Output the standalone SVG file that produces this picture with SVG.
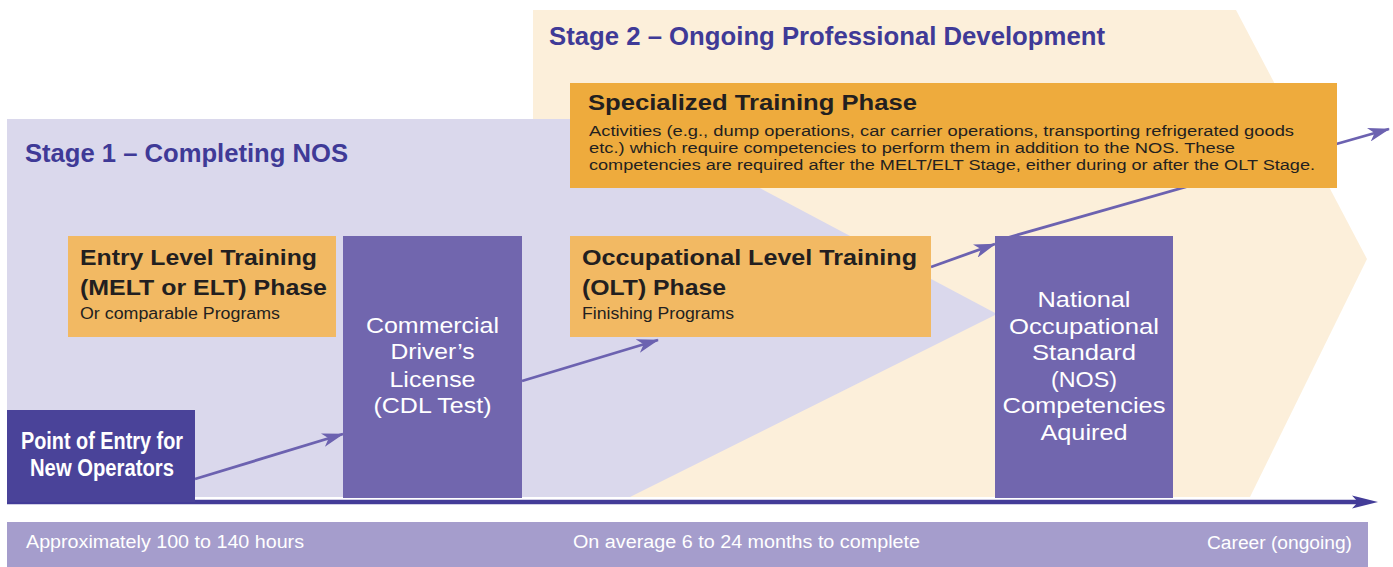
<svg xmlns="http://www.w3.org/2000/svg" width="1393" height="567" viewBox="0 0 1393 567">
<style>
text{font-family:"Liberation Sans",Arial,Helvetica,sans-serif}
.stage{font-size:26px;font-weight:bold;fill:#3F3A97}
.ttl{font-size:22.5px;font-weight:bold;fill:#231F20}
.sub{font-size:16px;fill:#231F20}
.body{font-size:15.5px;fill:#231F20}
.wb{font-size:22.5px;fill:#FFFFFF;text-anchor:middle}
.pe{font-size:23px;font-weight:bold;fill:#FFFFFF;text-anchor:middle}
.bar{font-size:18px;fill:#FFFFFF}
.conn{stroke:#6C62B0;stroke-width:2.8;fill:none;marker-end:url(#ah)}
</style>
<defs>
<marker id="ah" markerUnits="userSpaceOnUse" markerWidth="22" markerHeight="14" refX="21" refY="7" orient="auto" viewBox="0 0 22 14">
<path d="M0,0 L22,7 L0,14 L6,7 Z" fill="#6C62B0"/>
</marker>
</defs>
<rect width="1393" height="567" fill="#FFFFFF"/>
<g id="stage2-bg">
<polygon points="533,10 1236,10 1367,259 1250,497 533,497" fill="#FCEFDA"/>
<text class="stage" x="549" y="45" textLength="556" lengthAdjust="spacingAndGlyphs">Stage 2 – Ongoing Professional Development</text>
</g>
<g id="stage1-bg">
<polygon points="7,119 630,119 997,314 630,497 7,497" fill="#DAD8EC"/>
<text class="stage" x="25" y="162" textLength="323" lengthAdjust="spacingAndGlyphs">Stage 1 – Completing NOS</text>
</g>
<g id="timeline">
<line x1="7" y1="502" x2="1360" y2="502" stroke="#433C98" stroke-width="4.5"/>
<polygon points="1352,495.5 1378,502 1352,508.5 1358,502" fill="#433C98"/>
</g>
<g id="connectors">
<line class="conn" x1="195" y1="479" x2="343" y2="434"/>
<line class="conn" x1="522" y1="381" x2="658" y2="340"/>
<line class="conn" x1="931" y1="267" x2="995" y2="244"/>
<line class="conn" x1="1003" y1="239" x2="1389" y2="129"/>
</g>
<g id="specialized">
<rect x="570" y="83" width="767" height="105" fill="#EEAB3D"/>
<text class="ttl" x="588" y="110" style="font-size:21.5px" textLength="329" lengthAdjust="spacingAndGlyphs">Specialized Training Phase</text>
<text class="body" x="589" y="135.5" textLength="705" lengthAdjust="spacingAndGlyphs">Activities (e.g., dump operations, car carrier operations, transporting refrigerated goods</text>
<text class="body" x="589" y="152.5" textLength="646" lengthAdjust="spacingAndGlyphs">etc.) which require competencies to perform them in addition to the NOS. These</text>
<text class="body" x="589" y="170" textLength="726" lengthAdjust="spacingAndGlyphs">competencies are required after the MELT/ELT Stage, either during or after the OLT Stage.</text>
</g>
<g id="entry-level">
<rect x="68" y="236" width="268" height="101" fill="#F2B963"/>
<text class="ttl" x="80" y="265" textLength="237" lengthAdjust="spacingAndGlyphs">Entry Level Training</text>
<text class="ttl" x="80" y="295" textLength="247" lengthAdjust="spacingAndGlyphs">(MELT or ELT) Phase</text>
<text class="sub" x="80" y="319" textLength="200" lengthAdjust="spacingAndGlyphs">Or comparable Programs</text>
</g>
<g id="cdl">
<rect x="343" y="236" width="179" height="262" fill="#7166AE"/>
<text class="wb" x="432.5" y="333" textLength="133" lengthAdjust="spacingAndGlyphs">Commercial</text>
<text class="wb" x="432.5" y="359" textLength="84" lengthAdjust="spacingAndGlyphs">Driver’s</text>
<text class="wb" x="432.5" y="387" textLength="86" lengthAdjust="spacingAndGlyphs">License</text>
<text class="wb" x="432.5" y="413" textLength="118" lengthAdjust="spacingAndGlyphs">(CDL Test)</text>
</g>
<g id="olt">
<rect x="570" y="236" width="361" height="101" fill="#F2B963"/>
<text class="ttl" x="582" y="265" textLength="335" lengthAdjust="spacingAndGlyphs">Occupational Level Training</text>
<text class="ttl" x="582" y="295" textLength="144" lengthAdjust="spacingAndGlyphs">(OLT) Phase</text>
<text class="sub" x="582" y="319" textLength="152" lengthAdjust="spacingAndGlyphs">Finishing Programs</text>
</g>
<g id="nos">
<rect x="995" y="236" width="178" height="262" fill="#7166AE"/>
<text class="wb" x="1084" y="307" textLength="93" lengthAdjust="spacingAndGlyphs">National</text>
<text class="wb" x="1084" y="333.5" textLength="150" lengthAdjust="spacingAndGlyphs">Occupational</text>
<text class="wb" x="1084" y="360" textLength="104" lengthAdjust="spacingAndGlyphs">Standard</text>
<text class="wb" x="1084" y="386.5" textLength="66" lengthAdjust="spacingAndGlyphs">(NOS)</text>
<text class="wb" x="1084" y="413" textLength="163" lengthAdjust="spacingAndGlyphs">Competencies</text>
<text class="wb" x="1084" y="440" textLength="87" lengthAdjust="spacingAndGlyphs">Aquired</text>
</g>
<g id="point-of-entry">
<rect x="7" y="410" width="188" height="92" fill="#4A4399"/>
<text class="pe" x="102" y="449" textLength="162" lengthAdjust="spacingAndGlyphs">Point of Entry for</text>
<text class="pe" x="102" y="476" textLength="144" lengthAdjust="spacingAndGlyphs">New Operators</text>
</g>
<g id="duration-bar">
<rect x="7" y="522" width="1361" height="45" fill="#A59DCC"/>
<text class="bar" x="26" y="548" textLength="278" lengthAdjust="spacingAndGlyphs">Approximately 100 to 140 hours</text>
<text class="bar" x="573" y="548" textLength="347" lengthAdjust="spacingAndGlyphs">On average 6 to 24 months to complete</text>
<text class="bar" x="1352" y="549" text-anchor="end" textLength="145" lengthAdjust="spacingAndGlyphs">Career (ongoing)</text>
</g>
</svg>
